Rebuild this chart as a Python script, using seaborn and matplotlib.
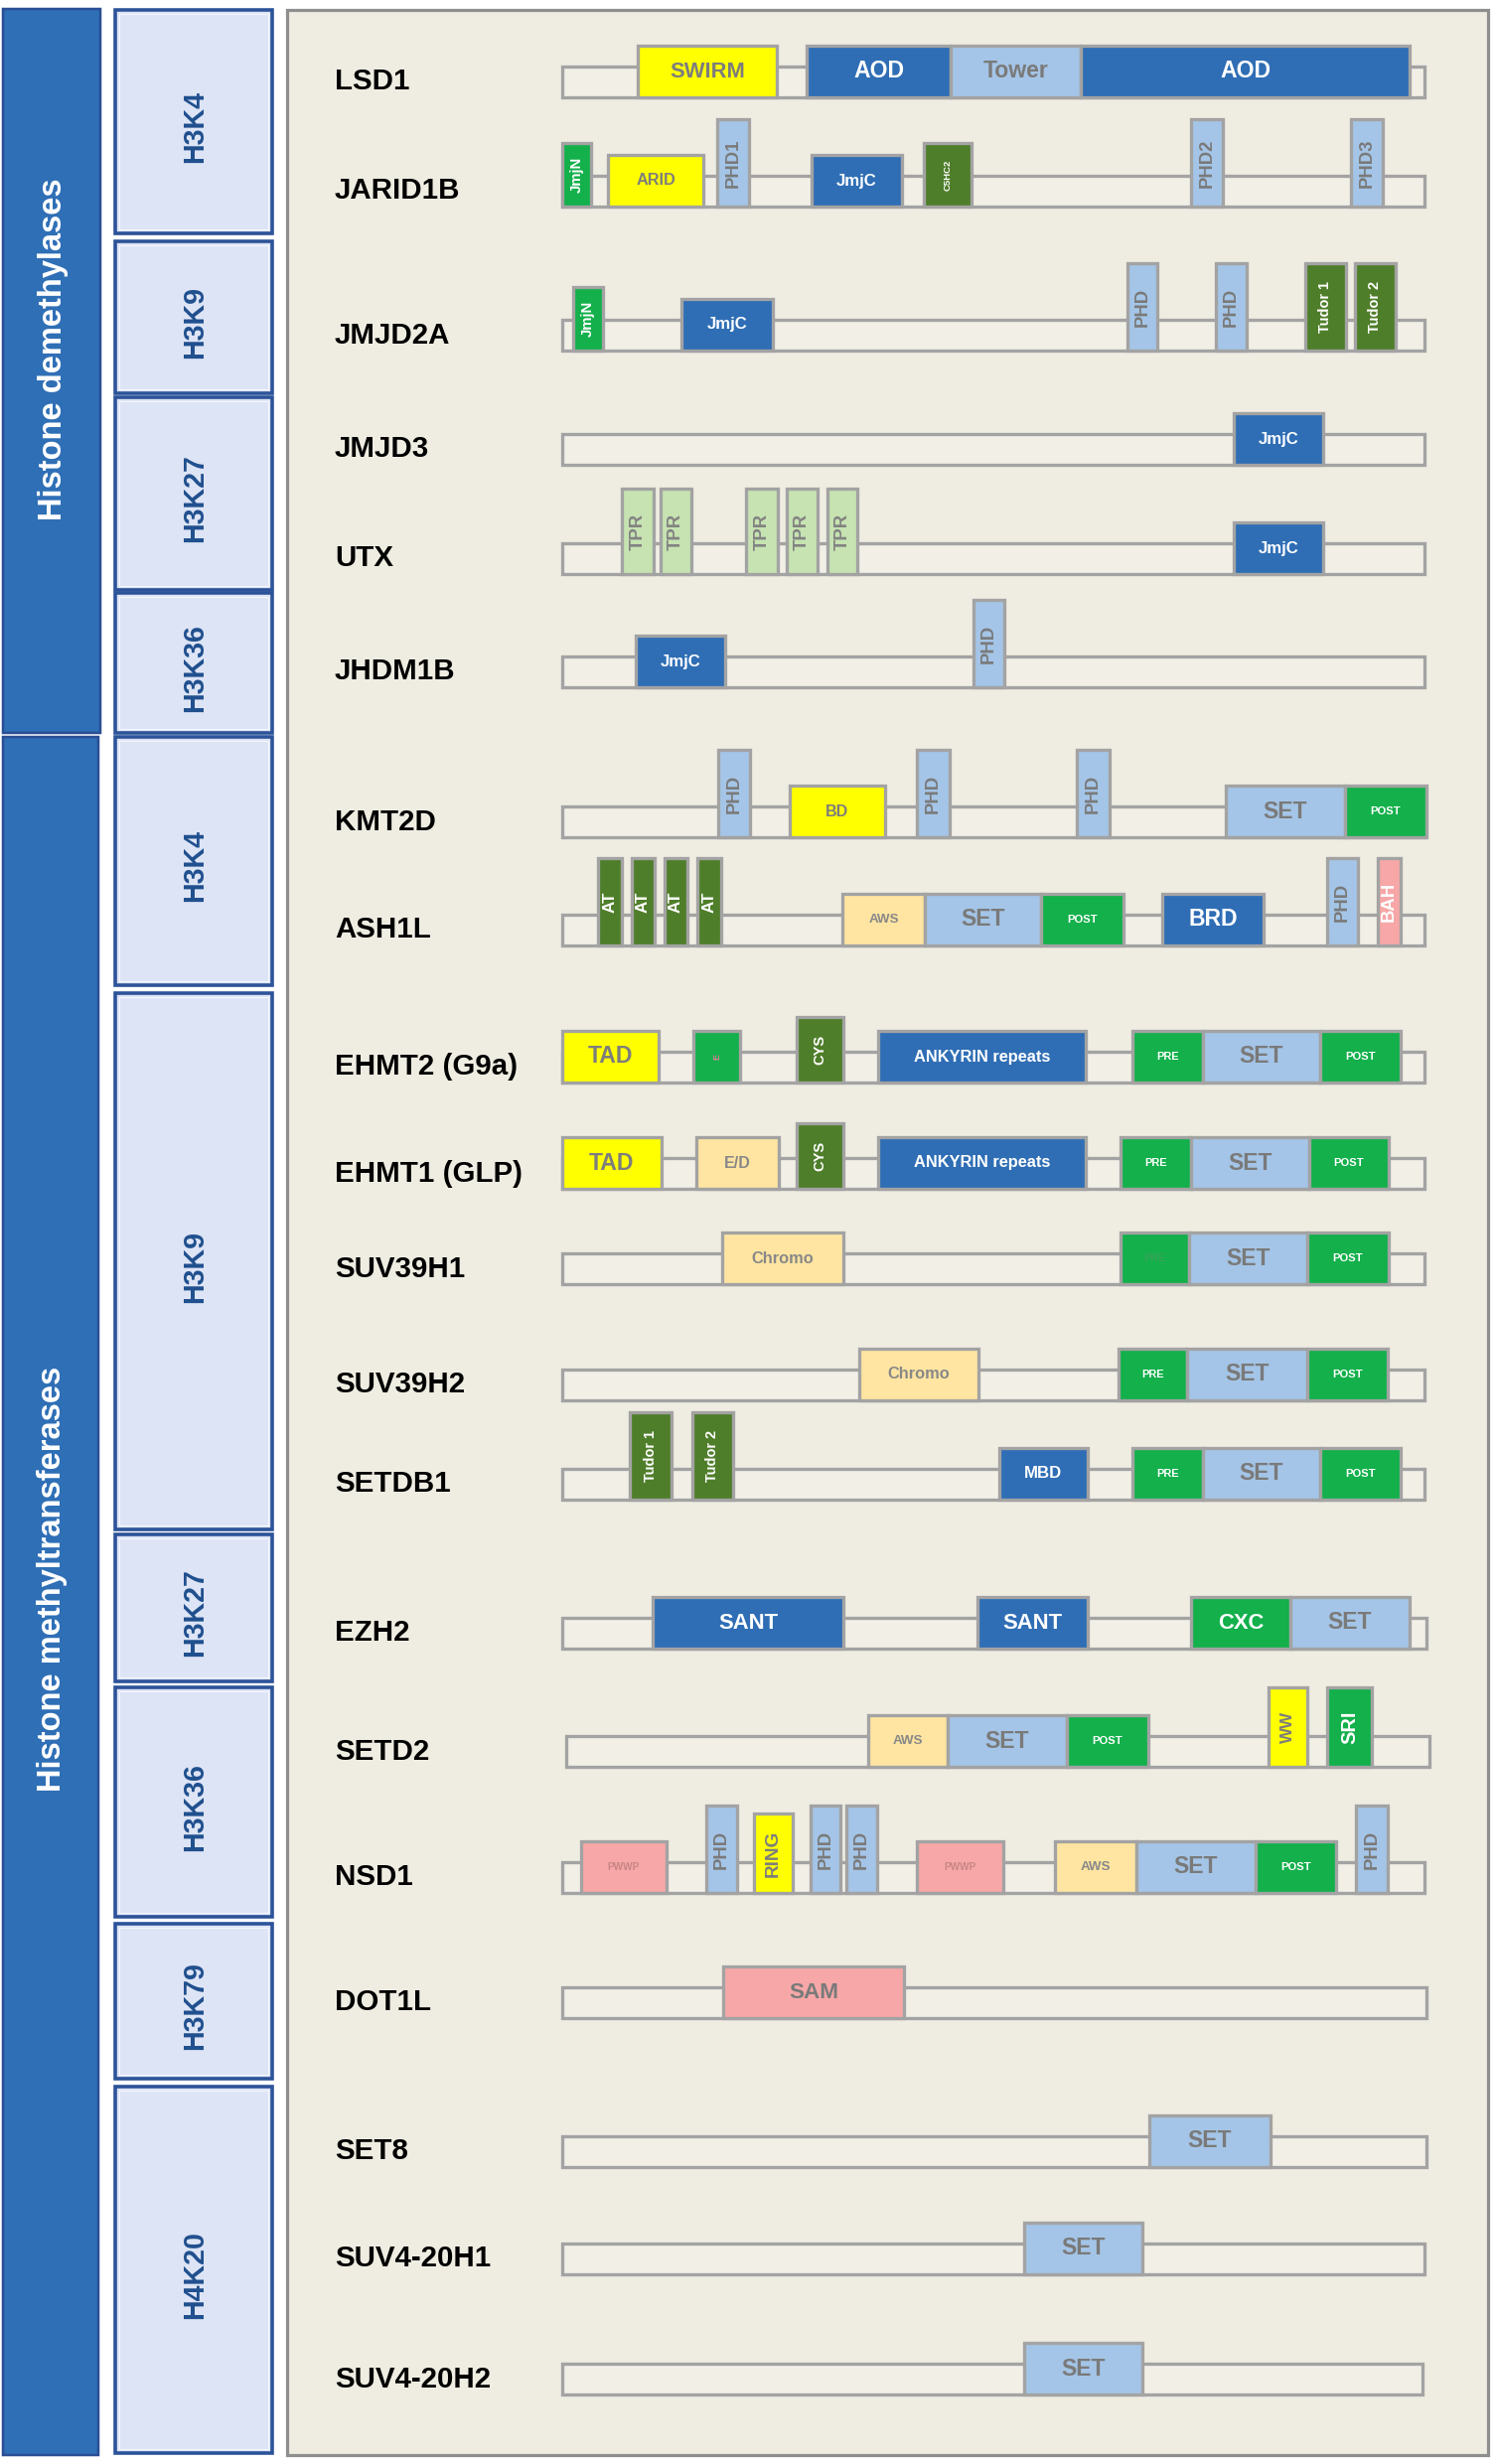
import matplotlib
matplotlib.use("Agg")
import matplotlib.pyplot as plt
from matplotlib.patches import Rectangle
import seaborn as sns

sns.set_theme(style="white")
plt.rcParams['font.family'] = ['Liberation Sans', 'DejaVu Sans']

# ---- data: enzyme classes, histone marks, proteins and their domains ----
ENZYME_CLASSES = ["Histone demethylases", "Histone methyltransferases"]
MARKS = ["H3K4", "H3K9", "H3K27", "H3K36",
         "H3K4", "H3K9", "H3K27", "H3K36", "H3K79", "H4K20"]
PROTEINS = ["LSD1", "JARID1B", "JMJD2A", "JMJD3", "UTX", "JHDM1B",
            "KMT2D", "ASH1L", "EHMT2 (G9a)", "EHMT1 (GLP)", "SUV39H1", "SUV39H2",
            "SETDB1", "EZH2", "SETD2", "NSD1", "DOT1L", "SET8", "SUV4-20H1", "SUV4-20H2"]
# track (protein) start / end along the drawn length
TRACK_START = [0, 0, 0, 0, 0, 0, 0, 0, 0, 0, 0, 0, 0, 0, 4, 0, 0, 0, 0, 0]
TRACK_END = [868, 868, 868, 868, 868, 868, 868, 868, 868, 868, 868, 868, 868, 870, 873, 868, 870, 870, 868, 866]

# domains: (label, start, end)
LSD1 = [("SWIRM", 76, 216), ("AOD", 246, 391), ("Tower", 391, 522), ("AOD", 522, 853)]
JARID1B = [("JmjN", 0, 29), ("ARID", 46, 142), ("PHD1", 156, 188), ("JmjC", 251, 342),
           ("C5HC2", 364, 412), ("PHD2", 633, 665), ("PHD3", 794, 826)]
JMJD2A = [("JmjN", 11, 41), ("JmjC", 120, 212), ("PHD", 569, 599), ("PHD", 658, 689),
          ("Tudor 1", 748, 789), ("Tudor 2", 798, 839)]
JMJD3 = [("JmjC", 676, 766)]
UTX = [("TPR", 60, 92), ("TPR", 99, 130), ("TPR", 185, 217), ("TPR", 226, 257),
       ("TPR", 267, 297), ("JmjC", 676, 766)]
JHDM1B = [("JmjC", 74, 164), ("PHD", 414, 445)]
KMT2D = [("PHD", 157, 189), ("BD", 229, 325), ("PHD", 357, 390), ("PHD", 518, 551),
         ("SET", 668, 788), ("POST", 788, 870)]
ASH1L = [("AT", 36, 60), ("AT", 70, 93), ("AT", 103, 126), ("AT", 136, 160),
         ("AWS", 282, 365), ("SET", 365, 482), ("POST", 482, 565), ("BRD", 604, 706),
         ("PHD", 770, 801), ("BAH", 821, 844)]
EHMT2 = [("TAD", 0, 97), ("E", 132, 179), ("CYS", 236, 283), ("ANKYRIN repeats", 318, 527),
         ("PRE", 574, 645), ("SET", 645, 763), ("POST", 763, 844)]
EHMT1 = [("TAD", 0, 100), ("E/D", 135, 218), ("CYS", 236, 283), ("ANKYRIN repeats", 318, 527),
         ("PRE", 562, 633), ("SET", 633, 752), ("POST", 752, 832)]
SUV39H1 = [("Chromo", 161, 283), ("PRE", 562, 631), ("SET", 631, 750), ("POST", 750, 832)]
SUV39H2 = [("Chromo", 299, 419), ("PRE", 560, 629), ("SET", 629, 750), ("POST", 750, 831)]
SETDB1 = [("Tudor 1", 68, 110), ("Tudor 2", 131, 172), ("MBD", 440, 529),
          ("PRE", 574, 645), ("SET", 645, 763), ("POST", 763, 844)]
EZH2 = [("SANT", 91, 283), ("SANT", 418, 529), ("CXC", 633, 733), ("SET", 733, 853)]
SETD2 = [("AWS", 308, 388), ("SET", 388, 508), ("POST", 508, 590), ("WW", 711, 750),
         ("SRI", 770, 815)]
NSD1 = [("PWWP", 19, 105), ("PHD", 145, 176), ("RING", 193, 232), ("PHD", 250, 280),
        ("PHD", 286, 317), ("PWWP", 357, 444), ("AWS", 496, 578), ("SET", 578, 698),
        ("POST", 698, 779), ("PHD", 799, 831)]
DOT1L = [("SAM", 162, 344)]
SET8 = [("SET", 591, 713)]
SUV4_20H1 = [("SET", 465, 584)]
SUV4_20H2 = [("SET", 465, 584)]

DOMAINS = [LSD1, JARID1B, JMJD2A, JMJD3, UTX, JHDM1B, KMT2D, ASH1L, EHMT2, EHMT1,
           SUV39H1, SUV39H2, SETDB1, EZH2, SETD2, NSD1, DOT1L, SET8, SUV4_20H1, SUV4_20H2]

# ---- layout (figure pixels) ----
W, H = 1506, 2481
X0 = 566                     # track left edge
ROW_BOTTOM = [98, 208, 353, 468, 578, 692, 843, 952, 1090, 1197, 1293, 1410, 1510,
              1660, 1779, 1906, 2032, 2182, 2290, 2411]
TRACK_H = 31
CLASS_SPANS = [(9, 738, 3, 101, 352), (742, 2472, 3, 99, 1590)]
MARK_SPANS = [(10, 235), (243, 396), (400, 594), (597, 738),
              (742, 992), (1000, 1540), (1545, 1693), (1699, 1930), (1937, 2093), (2101, 2470)]
PX = 0.72                    # points per pixel at dpi 100

# ---- styles ----
FILL = {"dblue": "#2F6EB5", "lblue": "#A4C5E7", "yellow": "#FFFF00", "green": "#13B04B",
        "dgreen": "#4F7E2A", "pgreen": "#C6E3B1", "pyellow": "#FFE5A1", "pink": "#F7A7A7"}
KIND = {"AOD": "dblue", "JmjC": "dblue", "ANKYRIN repeats": "dblue", "SANT": "dblue",
        "MBD": "dblue", "BRD": "dblue",
        "Tower": "lblue", "PHD": "lblue", "SET": "lblue",
        "SWIRM": "yellow", "ARID": "yellow", "BD": "yellow", "TAD": "yellow",
        "RING": "yellow", "WW": "yellow",
        "JmjN": "green", "POST": "green", "PRE": "green", "CXC": "green", "SRI": "green",
        "E": "green",
        "C5HC2": "dgreen", "Tudor": "dgreen", "CYS": "dgreen", "AT": "dgreen",
        "TPR": "pgreen", "AWS": "pyellow", "E/D": "pyellow", "Chromo": "pyellow",
        "PWWP": "pink", "SAM": "pink", "BAH": "pink"}
TEXT_COL = {"dblue": "white", "green": "white", "dgreen": "white", "lblue": "#7A7A7A",
            "yellow": "#7D7D7D", "pgreen": "#828282", "pyellow": "#888888", "pink": "#7A7A7A"}
SPECIAL_TEXT = {"E": "#E27C9C", "BAH": "white", "PWWP": "#C98585"}
HEIGHT = {"PHD": 88, "Tudor": 88, "TPR": 86, "AT": 88, "BAH": 88,
          "JmjN": 64, "C5HC2": 64, "CYS": 66, "RING": 80, "WW": 80, "SRI": 80}
FONT_PX = {"SWIRM": 22, "AOD": 23, "Tower": 23, "SET": 23, "TAD": 23, "BRD": 23,
           "SANT": 22, "CXC": 22, "SAM": 22.5,
           "JmjC": 16.8, "ARID": 16.3, "ANKYRIN repeats": 16.4, "Chromo": 16.4,
           "E/D": 16, "BD": 16, "MBD": 16.8, "AWS": 13.4, "PRE": 11, "POST": 11.2,
           "PWWP": 10, "PHD": 18.5, "TPR": 18.5, "AT": 17, "Tudor": 14.5, "JmjN": 15,
           "C5HC2": 9.5, "CYS": 14.6, "RING": 19, "WW": 17, "SRI": 20, "BAH": 18.5, "E": 9}
FADED = {("SUV39H1", "PRE"): "#36A455"}
EDGE = "#A3A3A3"
BEIGE = "#EFEDE2"


def base_name(label):
    if label.startswith("PHD"):
        return "PHD"
    if label.startswith("Tudor"):
        return "Tudor"
    return label


fig = plt.figure(figsize=(W / 100, H / 100), dpi=100)
ax = fig.add_axes([0, 0, 1, 1])
ax.set_xlim(0, W)
ax.set_ylim(H, 0)
ax.axis("off")

# enzyme class bars
for name, (top, bot, xl, xr, ty) in zip(ENZYME_CLASSES, CLASS_SPANS):
    ax.add_patch(Rectangle((xl, top), xr - xl, bot - top, fc="#2F6FB6", ec="#2A4E95",
                           lw=2.5 * PX, zorder=1))
    ax.text((xl + xr) / 2 + 2, ty, name, rotation=90, ha="center", va="center",
            color="white", fontsize=32.6 * PX, fontweight="bold", zorder=2)

# histone mark boxes
for mark, (top, bot) in zip(MARKS, MARK_SPANS):
    ax.add_patch(Rectangle((116, top), 158, bot - top, fc="#DDE4F5", ec="#2C5399",
                           lw=3.6 * PX, zorder=1))
    ax.add_patch(Rectangle((120, top + 4), 150, bot - top - 8, fc="none", ec="#F4F7FD",
                           lw=1.0 * PX, zorder=1))
    ax.text(196, (top + bot) / 2 + 5, mark, rotation=90, ha="center", va="center",
            color="#1F4F8E", fontsize=28.6 * PX, fontweight="bold", zorder=2)

# panel
ax.add_patch(Rectangle((289, 10), 1209, 2462, fc=BEIGE, ec="#8E8E8E", lw=3.2 * PX, zorder=0))

# proteins
for name, doms, bot, ts, te in zip(PROTEINS, DOMAINS, ROW_BOTTOM, TRACK_START, TRACK_END):
    ax.add_patch(Rectangle((X0 + ts, bot - TRACK_H), te - ts, TRACK_H, fc="#F1EFE6",
                           ec=EDGE, lw=3.3 * PX, zorder=2))
    ax.text(337, bot - TRACK_H / 2, name, ha="left", va="center", color="black",
            fontsize=29.5 * PX, fontweight="bold", zorder=4)
    for label, s, e in doms:
        key = base_name(label)
        kind = KIND[key]
        h = HEIGHT.get(key, 52)
        ax.add_patch(Rectangle((X0 + s, bot - h), e - s, h, fc=FILL[kind], ec=EDGE,
                               lw=3.3 * PX, zorder=3))
        tcol = FADED.get((name, label), SPECIAL_TEXT.get(key, TEXT_COL[kind]))
        vertical = (e - s) < 50
        ax.text(X0 + (s + e) / 2, bot - h / 2, label, rotation=90 if vertical else 0,
                ha="center", va="center", color=tcol, fontsize=FONT_PX[key] * PX,
                fontweight="bold", zorder=4)

fig.savefig("out.png", dpi=100, facecolor="white")
